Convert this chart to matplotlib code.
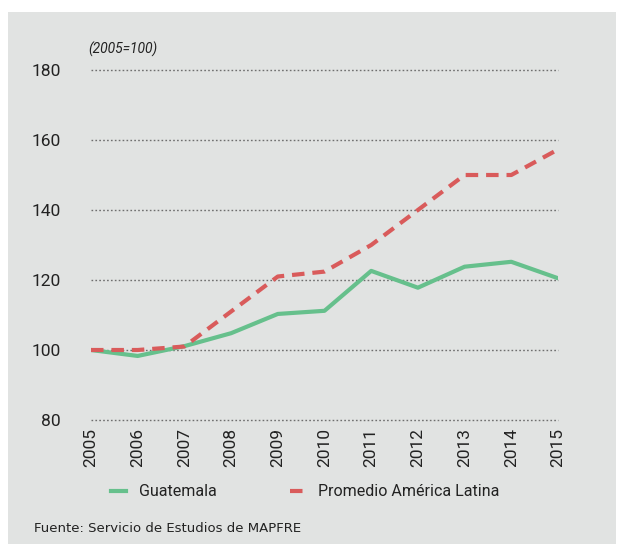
import numpy as np
import matplotlib
matplotlib.use("Agg")
import matplotlib.pyplot as plt
from matplotlib.patches import Rectangle

years = [2005, 2006, 2007, 2008, 2009, 2010, 2011, 2012, 2013, 2014, 2015]
guatemala = [100, 98.3, 101.1, 104.8, 110.3, 111.2, 122.6, 117.8, 123.8, 125.2, 120.5]
america_latina = [100, 100, 101, 111, 121, 122.4, 130, 140, 150, 150, 157.3]
y_ticks = [80, 100, 120, 140, 160, 180]

plt.rcParams['font.family'] = ['Liberation Sans Narrow', 'Roboto', 'DejaVu Sans']

fig = plt.figure(figsize=(6.17, 5.44), dpi=100)
fig.patches.append(Rectangle((8 / 617, 0), 608 / 617, 532 / 544,
                             transform=fig.transFigure, facecolor='#e1e3e2',
                             edgecolor='none', zorder=-10))

ax = fig.add_axes([91 / 617, 1 - 420 / 544, 467 / 617, 350 / 544])
ax.set_facecolor('none')

ax.plot(years, guatemala, color='#66c08c', lw=3.0, solid_joinstyle='round',
        label='Guatemala', zorder=3)
ax.plot(years, america_latina, color='#d95b5b', lw=3.0, dashes=(3.0, 1.9),
        label='Promedio América Latina', zorder=4)

ax.set_xlim(2005, 2015)
ax.set_ylim(80, 180)
ax.set_yticks(y_ticks)
ax.set_xticks(years)
ax.set_xticklabels([str(y) for y in years], rotation=90, va='top')
ax.tick_params(axis='both', length=0, labelsize=12.5, colors='#222222')
ax.tick_params(axis='y', pad=22)
ax.tick_params(axis='x', pad=6)
ax.grid(axis='y', linestyle=(0, (1.2, 1.6)), color='#6e6e6e', lw=1.0)
ax.grid(axis='x', visible=False)
for gl in ax.get_ygridlines():
    gl.set_clip_on(False)
for s in ax.spines.values():
    s.set_visible(False)

ax.text(-0.005, 1.06, '(2005=100)', transform=ax.transAxes, style='italic',
        fontsize=10, color='#222222', va='center', ha='left')

fig.legend(loc='center', bbox_to_anchor=(305 / 617, 1 - 492 / 544), ncol=2,
           frameon=False, fontsize=11.5, handlelength=0.95, columnspacing=4.6,
           handletextpad=0.8, labelcolor='#222222')

fig.text(34 / 617, 1 - 528 / 544, 'Fuente: Servicio de Estudios de MAPFRE',
         fontsize=9.5, color='#222222', va='center', ha='left',
         family=['DejaVu Sans'])

fig.savefig('out.png', dpi=100)
